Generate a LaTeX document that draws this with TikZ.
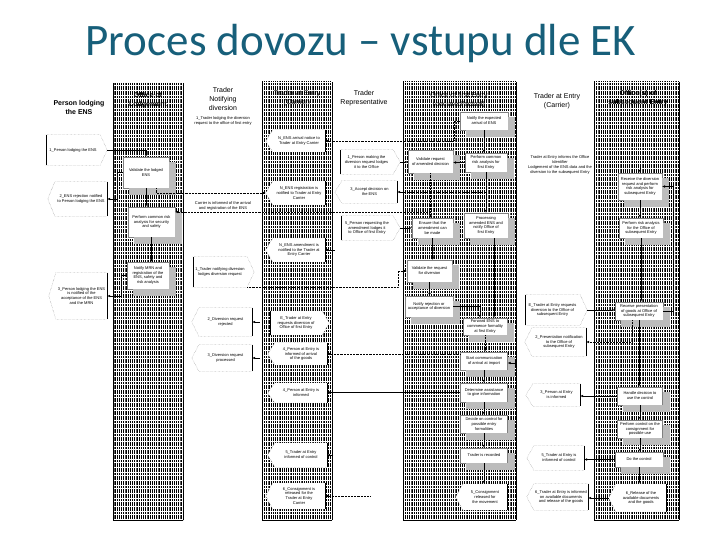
\documentclass[tikz,border=0pt]{standalone}
\usepackage{fontspec}
\newfontfamily\dgfont{Liberation Sans}
\newfontfamily\dgtitlefont{Carlito}
\usetikzlibrary{patterns,arrows.meta}
\pgfdeclarepatternformonly{vdash}{\pgfqpoint{-0.1pt}{-0.1pt}}{\pgfqpoint{2.3pt}{2.7pt}}{\pgfqpoint{2.2pt}{2.6pt}}{\pgfpathrectangle{\pgfqpoint{0pt}{0pt}}{\pgfqpoint{1.2pt}{1.9pt}}\pgfusepath{fill}}
\definecolor{ttl}{RGB}{23,95,122}
\definecolor{shadowgray}{RGB}{188,188,188}
\newcommand{\dgsmall}{\dgfont\fontsize{4}{4.9}\selectfont}
\newcommand{\dghead}{\dgfont\fontsize{7}{8.8}\selectfont}
\newcommand{\recvsig}[1]{%
  \fill[white] (#1.north west) -- ([xshift=-7pt]#1.west) -- (#1.south west) -- cycle;
  \draw[sigline] (#1.north east) -- (#1.north west) -- ([xshift=-7pt]#1.west) -- (#1.south west) -- (#1.south east);
  \draw[flatline] (#1.north east) -- (#1.south east);}
\newcommand{\sendsig}[1]{%
  \fill[white] (#1.north east) -- ([xshift=7pt]#1.east) -- (#1.south east) -- cycle;
  \draw[sigline] (#1.north west) -- (#1.north east) -- ([xshift=7pt]#1.east) -- (#1.south east) -- (#1.south west);
  \draw[flatline] (#1.north west) -- (#1.south west);}
\newcommand{\boxshadow}[1]{%
  \fill[shadowgray] ([yshift=-5pt]#1.north east) rectangle ([xshift=7pt,yshift=-7pt]#1.south east);
  \fill[shadowgray] ([xshift=6pt]#1.south west) rectangle ([xshift=7pt,yshift=-7pt]#1.south east);}
\begin{document}
\begin{tikzpicture}[x=1pt,y=-1pt,
  hatchcol/.style={pattern=vdash, pattern color=black},
  proc/.style={rectangle, fill=white, draw=black!50, line width=0.3pt, align=center, inner sep=0.8pt, font=\dgsmall},
  pbox/.style 2 args={proc, minimum width=#1pt, minimum height=#2pt},
  sig/.style={rectangle, fill=white, align=center, inner sep=0.5pt, font=\dgsmall},
  sbox/.style 2 args={sig, minimum width=#1pt, minimum height=#2pt},
  sigline/.style={draw=black!55, line width=0.35pt, densely dotted},
  flatline/.style={draw=black, line width=0.45pt},
  flow/.style={draw=black, line width=0.45pt, -{Latex[length=3pt,width=2.6pt]}},
  msg/.style={flow, densely dotted},
  head/.style={font=\dghead, align=center, inner sep=0pt},
  note/.style={font=\dgsmall, align=center, inner sep=0pt}]
\useasboundingbox (0,0) rectangle (720,540);
\fill[white] (0,0) rectangle (720,540);

% title
\node[anchor=base, font=\dgtitlefont\fontsize{45}{49}\selectfont, text=ttl] (title) at (361,56) {Proces dovozu – vstupu dle EK};

% hatched lanes
\fill[hatchcol] (113,83) rectangle (183,520);
\fill[hatchcol] (262,82) rectangle (332,520);
\fill[hatchcol] (403,82) rectangle (516,520);
\fill[hatchcol] (594,82) rectangle (679,520);
\foreach \a/\b/\t in {113/183/83, 262/332/82, 403/516/82, 594/679/82}{
  \draw[line width=0.4pt] (\a,\t) -- (\a,520);
  \draw[line width=0.4pt] (\b,\t) -- (\b,520);
  \draw[line width=1pt] (\a,520) -- (\b,520);
}

% headers
\node[head, font=\dghead\bfseries] (h1) at (79,107.5) {Person lodging\\the ENS};
\node[head, font=\dghead\bfseries] (h2) at (148,100) {Office of\\Lodgement};
\node[head] (h3) at (223,99) {Trader\\Notifying\\diversion};
\node[head] (h4) at (297,98.5) {Trader at Entry\\(Carrier)};
\node[head] (h5) at (364,98.5) {Trader\\Representative};
\node[head] (h6) at (459,100.5) {Office of first Entry\\(declared/actual)};
\node[head] (h7) at (557,101.5) {Trader at Entry\\(Carrier)};
\node[head, font=\dghead\bfseries] (h8) at (638,98) {Office(s) of\\subsequent Entry};

% free texts
\node[note] (N0) at (223,121) {1\_Trader lodging the diversion\\request to the office of first entry};
\node[note] (NT) at (223,206) {Carrier is informed of the arrival\\and registration of the ENS};
\node[note] (E0) at (560,165) {Trader at Entry informs the Office\\Identifier\\Lodgement of the ENS data and the\\diversion to the subsequent Entry};

% Person lodging the ENS
\node[sbox={54}{30}] (P1) at (73,150) {1\_Person lodging the ENS}; \sendsig{P1}
\node[sbox={52}{34}] (P2) at (81,199) {2\_ENS rejection notified\\to Person lodging the ENS}; \recvsig{P2}
\node[sbox={51}{46}] (P3) at (81.5,296) {3\_Person lodging the ENS\\is notified of the\\acceptance of the ENS\\and the MRN}; \recvsig{P3}

% Office of Lodgement
\node[pbox={46}{31}] (A1) at (146,172.5) {Validate the lodged\\ENS}; \boxshadow{A1}
\node[pbox={47}{30}] (A2) at (151.5,222) {Perform common risk\\analysis for security\\and safety}; \boxshadow{A2}
\node[pbox={42}{27}] (A3) at (148,275.5) {Notify MRN and\\registration of the\\ENS, safety and\\risk analysis}; \boxshadow{A3}

% Trader notifying diversion
\node[sbox={54}{30}] (N1) at (220,272) {1\_Trader notifying diversion\\lodges diversion request}; \sendsig{N1}
\node[sbox={53}{28}] (N2) at (225.5,322) {2\_Diversion request\\rejected}; \recvsig{N2}
\node[sbox={53}{26}] (N3) at (225.5,358) {3\_Diversion request\\processed}; \recvsig{N3}

% Trader at Entry (Carrier)
\node[sbox={52}{22}] (B1) at (299,141) {N\_ENS arrival notice to\\Trader at Entry Carrier}; \recvsig{B1}
\node[sbox={52}{24}] (B2) at (299,193) {N\_ENS registration is\\notified to Trader at Entry\\Carrier}; \recvsig{B2}
\node[sbox={52}{24}] (B3) at (299,250) {N\_ENS amendment is\\notified to the Trader at\\Entry Carrier}; \recvsig{B3}
\node[sbox={52}{24}] (B5) at (296,323) {E\_Trader at Entry\\requests diversion of\\Office of first Entry}; \sendsig{B5}
\node[sbox={52}{22}] (B6) at (301,354) {4\_Person at Entry is\\informed of arrival\\of the goods}; \recvsig{B6}
\node[sbox={52}{20}] (B4) at (301,393) {4\_Person at Entry is\\informed}; \recvsig{B4}
\node[sbox={52}{24}] (B7) at (301,455) {5\_Trader at Entry\\informed of control}; \recvsig{B7}
\node[sbox={52}{26}] (B8) at (299,496) {6\_Consignment is\\released for the\\Trader at Entry\\Carrier}; \recvsig{B8}

% Trader Representative
\node[sbox={53}{24}] (T1) at (366.5,162) {1\_Person making the\\diversion request lodges\\it to the Office}; \sendsig{T1}
\node[sbox={55}{22}] (T2) at (369.5,192) {3\_Accept decision on\\the ENS}; \recvsig{T2}
\node[sbox={52}{24}] (T3) at (367,228) {5\_Person requesting the\\amendment lodges it\\to Office of first Entry}; \sendsig{T3}

% Office of first Entry
\node[pbox={48}{18}] (C1) at (484,121) {Notify the expected\\arrival of ENS}; \boxshadow{C1}
\node[pbox={42}{19}] (C2) at (486,162.5) {Perform common\\risk analysis for\\first Entry}; \boxshadow{C2}
\node[pbox={45}{23}] (C3) at (430.5,161.5) {Validate request\\of amended decision}; \boxshadow{C3}
\node[pbox={41}{20}] (C4) at (432.5,228) {Ensure that the\\amendment can\\be made}; \boxshadow{C4}
\node[pbox={44}{25}] (C5) at (486,225.5) {Processing\\amended ENS and\\notify Office of\\first Entry}; \boxshadow{C5}
\node[pbox={45}{22}] (C6) at (429.5,271) {Validate the request\\for diversion}; \boxshadow{C6}
\node[pbox={48}{21}] (C7) at (429,306.5) {Notify rejection or\\acceptance of diversion}; \boxshadow{C7}
\node[pbox={44}{17}] (C8) at (485,326.5) {Forward ENS to\\commence formality\\at first Entry}; \boxshadow{C8}
\node[pbox={47}{18}] (C9) at (484,361) {Start communication\\of arrival at import}; \boxshadow{C9}
\node[pbox={47}{19}] (C10) at (484,392.5) {Determine assistance\\to give information}; \boxshadow{C10}
\node[pbox={47}{18}] (C11) at (484,424) {Decide on control for\\possible entry\\formalities}; \boxshadow{C11}
\node[pbox={47}{15}] (C12) at (484,455.5) {Trader is recorded}; \boxshadow{C12}
\node[sbox={44}{26}] (C13) at (485,497) {5\_Consignment\\released for\\the movement}; \recvsig{C13}

% Trader at Entry (Carrier), right
\node[sbox={55}{30}] (E1) at (552.5,310) {E\_Trader at Entry requests\\diversion to the Office of\\subsequent Entry}; \sendsig{E1}
\node[sbox={54}{28}] (E2) at (559,342) {2\_Presentation notification\\to the Office of\\subsequent Entry}; \recvsig{E2}
\node[sbox={47}{22}] (E3) at (556.5,395) {3\_Person at Entry\\is informed}; \recvsig{E3}
\node[sbox={50}{24}] (E4) at (559,458) {5\_Trader at Entry is\\informed of control}; \recvsig{E4}
\node[sbox={54}{26}] (E5) at (561,497) {6\_Trader at Entry is informed\\on available documents\\and release of the goods}; \recvsig{E5}

% Office(s) of subsequent Entry
\node[pbox={44}{27}] (D1) at (640,186.5) {Receive the diversion\\request and perform\\risk analysis for\\subsequent Entry}; \boxshadow{D1}
\node[pbox={44}{20}] (D2) at (641,228) {Perform risk analysis\\for the Office of\\subsequent Entry}; \boxshadow{D2}
\node[pbox={48}{18}] (D3) at (639,311) {Receive presentation\\of goods at Office of\\subsequent Entry}; \boxshadow{D3}
\node[pbox={45}{18}] (D4) at (640,396) {Handle decision to\\use the control}; \boxshadow{D4}
\node[pbox={45}{18}] (D5) at (640,429) {Perform control on the\\consignment for\\possible use}; \boxshadow{D5}
\node[pbox={48}{15}] (D6) at (639,459.5) {Do the control}; \boxshadow{D6}
\node[sbox={50}{28}] (D7) at (641,498) {6\_Release of the\\available documents\\and the goods}; \recvsig{D7}

% free ends
\coordinate (sB3) at (335,250);
\coordinate (sB7) at (333,455);
\coordinate (sN2) at (260,322);
\coordinate (sN3) at (260,358);
\coordinate (sC9) at (516,363);
\coordinate (sD1) at (640,164);
\coordinate (sB8) at (370,496);

% connectors: lodgement
\draw[flow] ([xshift=7pt]P1.east) -| (A1.north);
\draw[flow] (A1.west) -- ++(-6,0) |- (P2.east);
\draw[msg] ([xshift=10pt]A1.south) |- ([xshift=-7pt]B2.west);
\draw[flow] (A1.south) -- (A1.south |- A2.north);
\draw[flow] (A2.south) -- (A2.south |- A3.north);
\draw[flow] (A3.west) -- ++(-6,0) |- (P3.east);

% connectors: first entry
\draw[msg] (C1.west) -- ++(-6,0) |- (B1.east);
\draw[flow] (C1.south) -- (C1.south |- C2.north);
\draw[flow] (C2.west) -- (C2.west -| C3.east);
\draw[flow] ([xshift=7pt]T1.east) -- (T1.east -| C3.west);
\draw[msg] (C2.south) |- (T2.east);
\draw[flow] (C2.south) -- (C2.south |- C5.north);
\draw[msg] (C3.south) -- (C3.south |- C4.north);
\draw[msg] (C3.south |- 0,212) -- (A2.east |- 0,212);
\draw[flow] ([xshift=7pt]T3.east) -- (T3.east -| C4.west);
\draw[flow] (C4.south) -- (C4.south |- C6.north);
\draw[msg] (N1.south east) -- (N1.south east -| 398,0) |- (C6.west);
\draw[flow] (C6.south) -- (C6.south |- C7.north);
\draw[flow] (C7.east) -| ([xshift=-5pt]C8.north);
\draw[flow] ([xshift=8pt]C5.south) -- ([xshift=8pt]C5.south |- C8.north);
\draw[msg] (C8.south) -- (C8.south |- C9.north);
\draw[msg] (C9.west |- B6.east) -- (B6.east);
\draw[flow] (sC9) -- (sC9 -| C9.east);
\draw[flow] (C9.south) -- (C9.south |- C10.north);
\draw[flow] (C10.west) -- (C10.west -| B4.east);
\draw[flow] (C10.south) -- (C10.south |- C11.north);
\draw[flow] (C11.south) -- (C11.south |- C12.north);
\draw[flow] (C12.south) -- (C12.south |- C13.north);
\draw[flow] (sB3) -- (sB3 -| B3.east);
\draw[flow] (sB7) -- (sB7 -| B7.east);
\draw[flow] (sN2) -- (sN2 -| N2.east);
\draw[flow] (sN3) -- (sN3 -| N3.east);
\draw[msg] (sB8) -- (sB8 -| B8.east);

% connectors: subsequent entry
\draw[flow] (sD1) -- (sD1 |- D1.north);
\draw[flow] (D1.south) -- (D1.south |- D2.north);
\draw[flow] (D2.south) -- (D2.south |- D3.north);
\draw[flow] ([xshift=7pt]E1.east) -- (E1.east -| D3.west);
\draw[msg] ([xshift=-7pt]D3.south) |- (E2.east);
\draw[flow] (D3.east) -- ++(10,0) |- (D1.east);
\draw[flow] (D3.south) -- (D3.south |- D4.north);
\draw[flow] (D4.west) -- (D4.west -| E3.east);
\draw[flow] (D4.south) -- (D4.south |- D5.north);
\draw[flow] (D5.south) -- (D5.south |- D6.north);
\draw[flow] (D6.west) -- (D6.west -| E4.east);
\draw[flow] (D6.south) -- (D6.south |- D7.north);
\draw[flow] ([xshift=-7pt]D7.west) -- (D7.west -| E5.east);
\end{tikzpicture}
\end{document}
